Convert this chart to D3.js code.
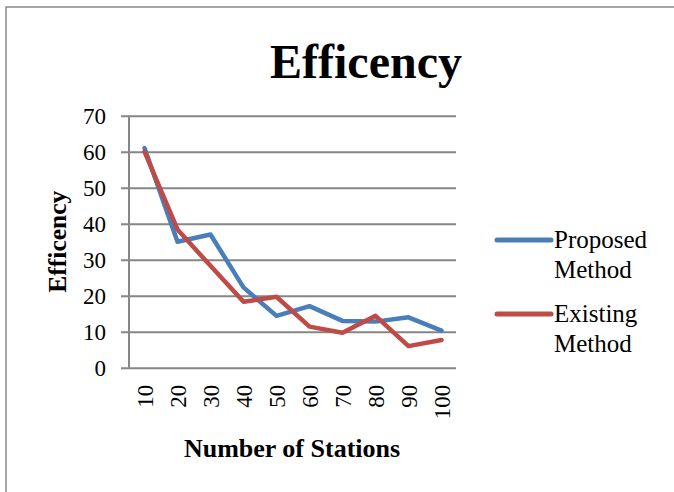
<!DOCTYPE html>
<html>
<head>
<meta charset="utf-8">
<script src="https://cdn.jsdelivr.net/npm/d3@7"></script>
<style>
  html, body { margin: 0; padding: 0; background: #fff; }
  svg { display: block; }
  text { font-family: "Liberation Serif", "Times New Roman", serif; fill: #000; }
</style>
</head>
<body>
<svg id="chart" width="674" height="492"></svg>
<script>
const stations = ["10","20","30","40","50","60","70","80","90","100"];
const proposed = [61, 35, 37, 22.3, 14.4, 17.1, 13, 12.8, 14, 10.3];
const existing = [60, 38.4, 28.3, 18.3, 19.7, 11.4, 9.7, 14.4, 6, 7.7];
const yTicks = [0, 10, 20, 30, 40, 50, 60, 70];
const seriesNames = [["Proposed", "Method"], ["Existing", "Method"]];
const colors = ["#4a7ebb", "#be4b48"];

const svg = d3.select("#chart");

// outer frame
svg.append("rect")
  .attr("x", 6).attr("y", 7).attr("width", 700).attr("height", 520)
  .attr("fill", "none").attr("stroke", "#8a8a8a").attr("stroke-width", 1.5);

const plot = { left: 128, right: 458, top: 115.7, bottom: 367.7 };

const x = d3.scalePoint().domain(stations).range([plot.left, plot.right]).padding(0.5);
const y = d3.scaleLinear().domain([0, 70]).range([plot.bottom, plot.top]);

// gridlines (extend left as tick marks)
svg.append("g").attr("transform", `translate(${plot.right - 2},0)`)
  .call(d3.axisLeft(y).tickValues(yTicks).tickSize(plot.right - 2 - 121).tickFormat(""))
  .call(g => g.select(".domain").remove())
  .call(g => g.selectAll(".tick line").attr("stroke", "#868686").attr("stroke-width", 2));

// y axis line
svg.append("line")
  .attr("x1", 129).attr("x2", 129)
  .attr("y1", y(70)).attr("y2", y(0))
  .attr("stroke", "#868686").attr("stroke-width", 2);

// y tick labels
svg.append("g").attr("transform", "translate(129,0)")
  .call(d3.axisLeft(y).tickValues(yTicks).tickSize(0).tickPadding(23))
  .call(g => g.select(".domain").remove())
  .call(g => g.selectAll("text")
    .style("font-family", '"Liberation Serif", "Times New Roman", serif')
    .style("font-size", "23px").attr("fill", "#000"));

// x tick labels (rotated)
svg.append("g").attr("transform", `translate(0,${plot.bottom})`)
  .call(d3.axisBottom(x).tickSize(0).tickPadding(0))
  .call(g => g.select(".domain").remove())
  .call(g => g.selectAll("text")
    .style("font-family", '"Liberation Serif", "Times New Roman", serif')
    .style("font-size", "23px").attr("fill", "#000")
    .attr("transform", "rotate(-90)")
    .attr("text-anchor", "end")
    .attr("x", -17).attr("y", 0).attr("dy", "0.35em"));

// lines
const line = d3.line().x((d, i) => x(stations[i])).y(d => y(d));
[proposed, existing].forEach((s, k) => {
  svg.append("path").datum(s)
    .attr("d", line)
    .attr("fill", "none")
    .attr("stroke", colors[k])
    .attr("stroke-width", 4.5)
    .attr("stroke-linejoin", "round")
    .attr("stroke-linecap", "round");
});

// title
svg.append("text").attr("x", 366).attr("y", 78)
  .attr("text-anchor", "middle")
  .style("font-size", "48px").style("font-weight", "bold")
  .text("Efficency");

// x axis title
svg.append("text").attr("x", 292).attr("y", 456.5)
  .attr("text-anchor", "middle")
  .style("font-size", "26px").style("font-weight", "bold")
  .text("Number of Stations");

// y axis title
svg.append("text")
  .attr("transform", `translate(66,${(plot.top + plot.bottom) / 2}) rotate(-90)`)
  .attr("text-anchor", "middle")
  .style("font-size", "25.5px").style("font-weight", "bold")
  .text("Efficency");

// legend
const legendY = [240, 314];
seriesNames.forEach((nm, k) => {
  const g = svg.append("g");
  g.append("line")
    .attr("x1", 497).attr("x2", 551)
    .attr("y1", legendY[k]).attr("y2", legendY[k])
    .attr("stroke", colors[k]).attr("stroke-width", 5)
    .attr("stroke-linecap", "round");
  nm.forEach((t, j) => {
    g.append("text")
      .attr("x", 554).attr("y", legendY[k] + 8 + j * 30)
      .style("font-size", "25px")
      .text(t);
  });
});
</script>
</body>
</html>
